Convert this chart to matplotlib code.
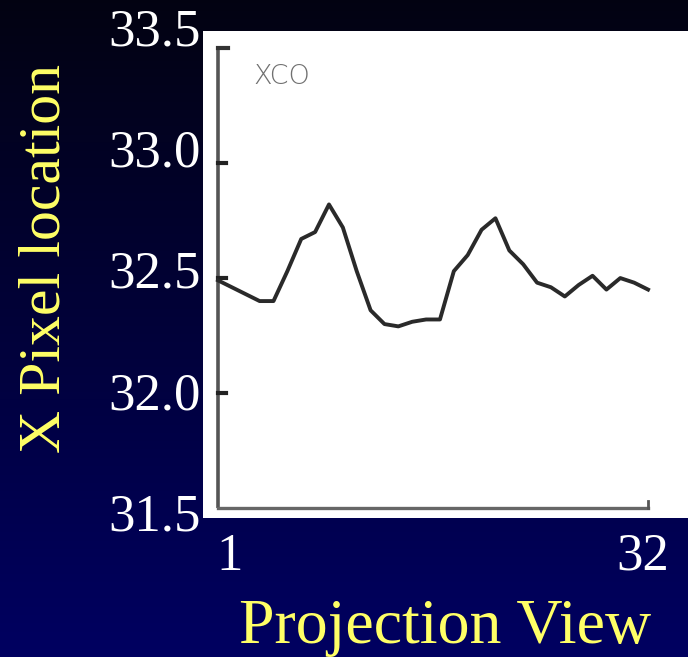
import numpy as np
import matplotlib
matplotlib.use("Agg")
import matplotlib.pyplot as plt
from matplotlib.colors import LinearSegmentedColormap

# ---- data ----
views = list(range(1, 33))
x_pixel = [32.49, 32.46, 32.43, 32.40, 32.40, 32.53, 32.67, 32.70, 32.82, 32.72,
           32.53, 32.36, 32.30, 32.29, 32.31, 32.32, 32.32, 32.53, 32.60, 32.71,
           32.76, 32.62, 32.56, 32.48, 32.46, 32.42, 32.47, 32.51, 32.45, 32.50,
           32.48, 32.45]
y_ticks = [31.5, 32.0, 32.5, 33.0, 33.5]
y_ticklabels = ["31.5", "32.0", "32.5", "33.0", "33.5"]
x_ticks = [1, 32]
x_ticklabels = ["1", "32"]
inner_label = "XCO"
xlabel = "Projection View"
ylabel = "X Pixel location"

W, H = 688, 657
fig = plt.figure(figsize=(W / 100, H / 100), dpi=100)
serif = ["Liberation Serif", "DejaVu Serif"]

def px_rect(x0, y0, x1, y1):
    return [x0 / W, 1 - y1 / H, (x1 - x0) / W, (y1 - y0) / H]

# background gradient
bg = fig.add_axes([0, 0, 1, 1])
cmap = LinearSegmentedColormap.from_list("bg", [(0.01, 0.01, 0.07), (0.0, 0.0, 0.38)])
grad = np.linspace(0, 1, 256).reshape(-1, 1)
bg.imshow(grad, aspect="auto", cmap=cmap, extent=[0, 1, 0, 1], origin="upper")
bg.set_axis_off()

# inner scanned chart (white box)
ax_in = fig.add_axes(px_rect(203, 31, 688, 518))
ax_in.set_facecolor("white")
ax_in.set_xlim(-0.081, 34.88)
ax_in.set_ylim(31.457, 33.574)
for s in ax_in.spines.values():
    s.set_visible(False)
ax_in.set_xticks([])
ax_in.set_yticks([])
ax_in.plot([views[0], views[0]], [y_ticks[0], y_ticks[-1]], color="#555555", lw=2.6, solid_capstyle="butt")
ax_in.plot([views[0], views[0] + 0.7], [y_ticks[-1], y_ticks[-1]], color="#333333", lw=3)
ax_in.plot([views[0], views[-1]], [y_ticks[0], y_ticks[0]], color="#666666", lw=2.4)
ax_in.plot([views[-1], views[-1]], [y_ticks[0], y_ticks[0] + 0.03], color="#555555", lw=2)
for yt in y_ticks[1:-1]:
    ax_in.plot([views[0], views[0] + 0.6], [yt, yt], color="#222222", lw=3)
ax_in.plot(views, x_pixel, color="#2a2a2a", lw=2.8, solid_joinstyle="round")
ax_in.text(3.52, 33.375, inner_label, color="#707070", fontsize=19.5, va="center", ha="left",
           family="DejaVu Sans", fontweight="light")

# outer slide axes with labels
ax = fig.add_axes(px_rect(230, 27, 643, 512))
ax.set_facecolor("none")
ax.set_xlim(1, 32)
ax.set_ylim(31.5, 33.5)
for s in ax.spines.values():
    s.set_visible(False)
ax.set_yticks(y_ticks)
ax.set_yticklabels(y_ticklabels, family=serif, fontsize=38, color="white")
ax.set_xticks(x_ticks)
ax.set_xticklabels(x_ticklabels, family=serif, fontsize=38, color="white")
ax.tick_params(axis="y", length=0, pad=21)
ax.tick_params(axis="x", length=0, pad=15)
ax.set_xlabel(xlabel, family=serif, fontsize=46, color="#ffff66", va="baseline")
ax.xaxis.set_label_coords((445 - 230) / 413, (512 - 643) / 485)
ax.set_ylabel(ylabel, family=serif, fontsize=43, color="#ffff66", va="baseline")
ax.yaxis.set_label_coords((60 - 230) / 413, (512 - 259) / 485)

fig.savefig("out.png", dpi=100)
